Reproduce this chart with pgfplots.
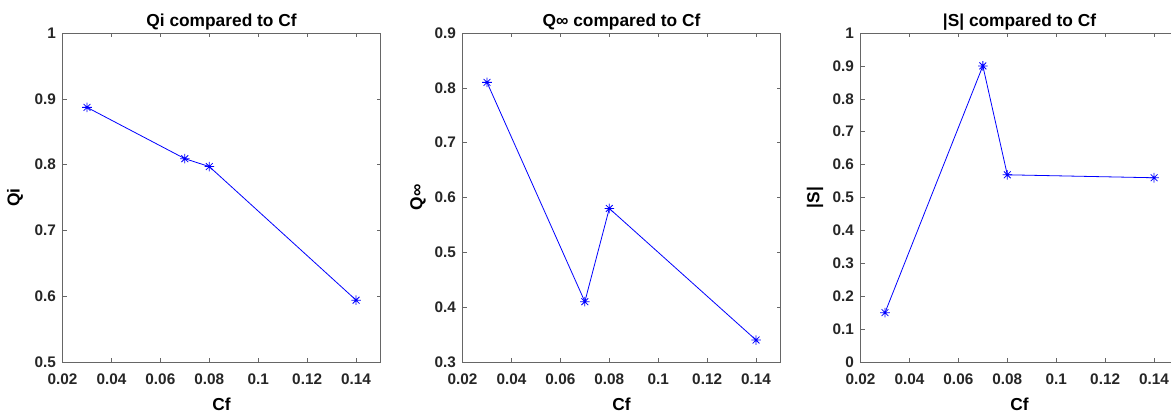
\documentclass[border=0pt]{standalone}
\usepackage{fontspec}
\setmainfont{Liberation Sans}
\usepackage{pgfplots}
\pgfplotsset{compat=1.18}

% MATLAB style '*' marker: a plus and a cross on top of each other
\pgfdeclareplotmark{mstar}{%
  \pgfpathmoveto{\pgfqpoint{0pt}{\pgfplotmarksize}}%
  \pgfpathlineto{\pgfqpoint{0pt}{-\pgfplotmarksize}}%
  \pgfpathmoveto{\pgfqpoint{\pgfplotmarksize}{0pt}}%
  \pgfpathlineto{\pgfqpoint{-\pgfplotmarksize}{0pt}}%
  \pgfpathmoveto{\pgfqpoint{0.707\pgfplotmarksize}{0.707\pgfplotmarksize}}%
  \pgfpathlineto{\pgfqpoint{-0.707\pgfplotmarksize}{-0.707\pgfplotmarksize}}%
  \pgfpathmoveto{\pgfqpoint{-0.707\pgfplotmarksize}{0.707\pgfplotmarksize}}%
  \pgfpathlineto{\pgfqpoint{0.707\pgfplotmarksize}{-0.707\pgfplotmarksize}}%
  \pgfusepathqstroke}

\definecolor{mblue}{RGB}{0,0,255}

\pgfplotsset{
  mat/.style={
    scale only axis,
    width=238.5pt, height=246.75pt,
    xmin=0.02, xmax=0.15,
    xtick={0.02,0.04,0.06,0.08,0.1,0.12,0.14},
    xticklabels={0.02,0.04,0.06,0.08,0.1,0.12,0.14},
    axis line style={black!60},
    every tick/.style={black!60},
    major tick length=3pt,
    tick align=inside,
    ticklabel style={font=\bfseries\fontsize{11.5}{13}\selectfont, text=black!85},
    xticklabel style={yshift=-5.5pt},
    yticklabel style={xshift=-1.5pt},
    title style={font=\bfseries\fontsize{13}{15}\selectfont, at={(axis description cs:0.5,1)}, anchor=center, yshift=2.5pt},
    xlabel style={font=\bfseries\fontsize{13}{15}\selectfont, at={(axis description cs:0.5,0)}, anchor=center, yshift=-32pt},
    ylabel style={font=\bfseries\fontsize{13}{15}\selectfont, anchor=center},
    xlabel={Cf},
    anchor=south west,
  },
  mline/.style={color=mblue, line width=0.6pt, mark=mstar, mark size=3.6pt, mark options={line width=0.6pt}},
}

\begin{document}
\begin{tikzpicture}
\useasboundingbox (0,0) rectangle (878.25pt,-310.5pt);

\begin{axis}[mat, at={(46.9pt,-271.5pt)},
  ymin=0.5, ymax=1,
  ytick={0.5,0.6,0.7,0.8,0.9,1},
  yticklabels={0.5,0.6,0.7,0.8,0.9,1},
  title={Qi compared to Cf},
  ylabel={Qi}, ylabel style={at={(axis description cs:-0.149,0.5)}}]
\addplot[mline] coordinates {(0.03,0.887) (0.07,0.809) (0.08,0.797) (0.14,0.594)};
\end{axis}

\begin{axis}[mat, at={(346.9pt,-271.5pt)},
  ymin=0.3, ymax=0.9,
  ytick={0.3,0.4,0.5,0.6,0.7,0.8,0.9},
  yticklabels={0.3,0.4,0.5,0.6,0.7,0.8,0.9},
  title={Q∞ compared to Cf},
  ylabel={Q∞}, ylabel style={at={(axis description cs:-0.140,0.5)}}]
\addplot[mline] coordinates {(0.03,0.810) (0.07,0.410) (0.08,0.580) (0.14,0.340)};
\end{axis}

\begin{axis}[mat, at={(645.4pt,-271.5pt)},
  ymin=0, ymax=1,
  ytick={0,0.1,0.2,0.3,0.4,0.5,0.6,0.7,0.8,0.9,1},
  yticklabels={0,0.1,0.2,0.3,0.4,0.5,0.6,0.7,0.8,0.9,1},
  title={|S| compared to Cf},
  ylabel={|S|}, ylabel style={at={(axis description cs:-0.143,0.5)}}]
\addplot[mline] coordinates {(0.03,0.150) (0.07,0.900) (0.08,0.569) (0.14,0.560)};
\end{axis}
\end{tikzpicture}
\end{document}
